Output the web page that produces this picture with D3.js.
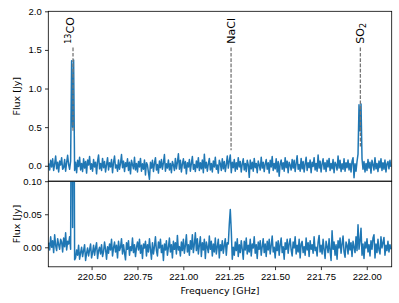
<!DOCTYPE html>
<html>
<head>
<meta charset="utf-8">
<script src="https://cdn.jsdelivr.net/npm/d3@7"></script>
<style>
  body { margin: 0; background: #fff; }
  svg { display: block; font-family: "DejaVu Sans", sans-serif; }
  .tick text { font-size: 9.5px; fill: #000; }
  .tick line { stroke: #000; stroke-width: 0.8; }
</style>
</head>
<body>
<div id="chart"></div>
<script>
// channel grid of the spectrum (GHz)
const chanStart = 220.266;
const chanWidth = 0.00544;

// upper spectrum, flux in mJy per channel
const fluxTop = [
  30,-55,70,-15,90,-60,25,125,-40,45,-80,60,10,105,-45,-25,80,-70,40,135,
  15,-45,60,1360,500,1370,-60,45,-90,70,-10,110,-55,30,-75,90,-30,55,-95,75,
  10,120,-45,25,-70,80,-15,45,-105,60,140,-40,30,-60,95,-25,55,-80,15,105,
  -55,40,-15,80,-90,45,125,-30,10,-70,75,-45,30,145,-25,60,-75,40,-10,90,
  -60,45,-105,70,15,-40,110,-55,30,-80,55,-15,95,-70,25,-45,75,-120,40,10,
  -90,-175,45,-30,70,-75,30,105,-55,15,-95,60,-25,80,-45,40,145,-70,25,-30,
  75,-55,30,-90,55,10,-60,95,-40,45,155,-45,70,-80,25,90,-30,55,-105,40,
  -15,80,-70,30,120,-45,15,-75,60,-25,105,-60,40,-40,75,-90,150,-30,45,-70,
  25,95,-55,30,-80,60,-15,110,-45,10,-95,70,30,-60,90,-40,55,-75,15,125,
  -30,60,140,-90,45,-25,80,-70,40,-45,105,-15,55,-80,25,90,-55,30,-75,70,
  15,-150,75,-40,45,-70,95,-25,30,-90,60,10,-55,110,-30,45,-75,25,80,-45,
  40,-95,70,-15,120,-60,30,-40,90,-80,55,-135,25,75,-45,40,-70,105,-25,60,
  -90,45,10,-55,80,-30,70,-75,30,130,-45,15,-70,95,-40,55,-80,25,110,-60,
  40,-25,75,-90,45,-10,105,-55,30,-70,140,-30,60,-80,25,90,-45,40,-75,70,
  -15,95,-60,30,-40,80,-90,45,15,-55,125,-30,70,-75,25,-45,90,-70,40,-25,
  75,-55,30,-80,60,105,-155,25,-70,55,150,790,450,800,90,-45,55,-80,30,-60,
  80,-30,45,-95,70,15,-55,105,-40,30,-75,60,-25,90,-60,40,-45,75,-80,25,
  55,-40,70,-15
];

// lower spectrum, flux in mJy per channel
const fluxBottom = [
  7,-4,16,0,10,-8,19,3,-5,13,4,-3,12,8,-7,14,1,22,-4,9,
  5,16,-3,400,30,420,-19,-16,-4,-12,3,-18,-8,0,-14,-5,4,-20,-9,-1,
  -13,-4,5,-16,-8,3,-12,-1,7,-17,-5,0,-10,4,-14,-7,8,-3,-18,1,
  -9,5,-4,12,-13,-1,8,-7,3,-16,9,-5,0,13,-10,4,-8,-19,7,-3,
  10,-12,1,-5,14,-8,4,-14,0,8,-4,12,-9,3,-17,5,-1,9,-13,4,
  -7,13,-3,-18,7,-10,1,16,-5,-13,8,-1,12,-8,3,-20,5,-4,10,-12,
  0,14,-7,4,-16,9,-3,7,-10,18,-4,1,-13,8,-5,12,-9,3,19,-7,
  4,-12,10,-3,19,-8,5,22,-5,13,-10,3,16,-14,7,-4,12,-17,8,0,
  -8,17,-3,9,-13,5,-7,14,-10,1,12,-16,4,-5,10,-9,3,13,-12,7,
  5,35,57,25,-18,0,-12,8,-5,13,-14,4,-8,10,-3,-18,9,-4,14,-10,
  3,-7,12,-13,5,-1,16,-9,4,-17,8,-3,10,-12,1,13,-8,5,-14,9,
  -4,12,-10,3,17,-7,0,-16,8,-5,10,-12,4,14,-8,1,-18,7,-3,12,
  -9,5,13,-4,-13,8,-1,16,-10,3,-7,12,-16,5,9,-8,1,-12,14,-4,
  7,-14,10,-3,4,-9,16,-5,0,-13,8,18,-7,3,-10,12,-4,-17,9,1,
  -8,13,-5,-20,25,-3,8,-12,4,-18,10,-1,14,-9,5,17,-7,-15,8,3,
  -10,12,-4,7,-14,9,0,-8,16,-5,34,-3,10,29,-12,5,-17,8,-1,13,
  -7,4,-13,10,-3,14,19,-16,5,-8,12,-4,-10,16,-1,7,15,-12,3,-5,
  9,-7,4,-3
];

// line identifications
const lineNames = ['13CO', 'NaCl', 'SO2'];
const lineFreqs = [220.3987, 221.2603, 221.9652];
const lineDashEnd = [0.45, 0.2, 0.25];   // Jy, lower end of the marker
const labelFlux = 1.58;
const dashTopFlux = 1.53;

const xTicks = [220.5, 220.75, 221.0, 221.25, 221.5, 221.75, 222.0];
const yTicksTop = [0, 0.5, 1.0, 1.5, 2.0];
const yTicksBottom = [0, 0.05, 0.1];

const width = 399, height = 303;
const left = 48.3, right = 391.7;
const top1 = 11.3, bot1 = 181.2, bot2 = 266.8;
const blue = '#1f77b4';

const toSeries = arr => arr.map((v, i) => ({ f: chanStart + i * chanWidth, v: v / 1000 }));
const specTop = toSeries(fluxTop);
const specBottom = toSeries(fluxBottom);

const svg = d3.select('#chart')
  .append('svg')
  .attr('width', width)
  .attr('height', height);

const x = d3.scaleLinear().domain([220.264, 222.136]).range([left, right]);
const yTop = d3.scaleLinear().domain([-0.2, 2.0]).range([bot1, top1]);
const yBot = d3.scaleLinear().domain([-0.0295, 0.1]).range([bot2, bot1]);

function panel(id, y, spec, yTicks, fmt, showX) {
  const defs = svg.append('defs');
  defs.append('clipPath').attr('id', id)
    .append('rect')
    .attr('x', left).attr('y', y.range()[1])
    .attr('width', right - left).attr('height', y.range()[0] - y.range()[1]);

  const line = d3.line().x(d => x(d.f)).y(d => y(d.v));
  svg.append('path')
    .datum(spec)
    .attr('clip-path', `url(#${id})`)
    .attr('d', line)
    .attr('fill', 'none')
    .attr('stroke', blue)
    .attr('stroke-width', 1.5)
    .attr('stroke-linejoin', 'round');

  const yAxis = svg.append('g')
    .attr('transform', `translate(${left},0)`)
    .call(d3.axisLeft(y).tickValues(yTicks).tickFormat(d3.format(fmt))
      .tickSize(3.3).tickPadding(3.3).tickSizeOuter(0));
  yAxis.select('.domain').remove();

  if (showX) {
    const xAxis = svg.append('g')
      .attr('transform', `translate(0,${y.range()[0]})`)
      .call(d3.axisBottom(x).tickValues(xTicks).tickFormat(d3.format('.2f'))
        .tickSize(3.3).tickPadding(3.3).tickSizeOuter(0));
    xAxis.select('.domain').remove();
  }

  // frame
  svg.append('rect')
    .attr('x', left).attr('y', y.range()[1])
    .attr('width', right - left).attr('height', y.range()[0] - y.range()[1])
    .attr('fill', 'none')
    .attr('stroke', '#000')
    .attr('stroke-width', 0.8);

  svg.append('text')
    .attr('transform', `translate(16.7,${(y.range()[0] + y.range()[1]) / 2}) rotate(-90)`)
    .attr('text-anchor', 'middle')
    .attr('dy', '0.35em')
    .attr('font-size', 9.5)
    .text('Flux [Jy]');
}

panel('clipTop', yTop, specTop, yTicksTop, '.1f', false);
panel('clipBot', yBot, specBottom, yTicksBottom, '.2f', true);

// line markers on the upper panel
lineNames.forEach((name, i) => {
  const lx = x(lineFreqs[i]);
  svg.append('line')
    .attr('x1', lx).attr('x2', lx)
    .attr('y1', yTop(dashTopFlux)).attr('y2', yTop(lineDashEnd[i]))
    .attr('stroke', '#777')
    .attr('stroke-width', 1.3)
    .attr('stroke-dasharray', '3.7,1.6');

  const t = svg.append('text')
    .attr('transform', `translate(${lx},${yTop(labelFlux)}) rotate(-90)`)
    .attr('dy', '0.36em')
    .attr('font-size', 11);
  if (name === '13CO') {
    t.append('tspan').attr('font-size', 8).attr('dy', '-0.25em').text('13');
    t.append('tspan').attr('dy', '3px').text('CO');
  } else if (name === 'SO2') {
    t.append('tspan').text('SO');
    t.append('tspan').attr('font-size', 8).attr('dy', '2px').text('2');
  } else {
    t.text(name);
  }
});

svg.append('text')
  .attr('x', (left + right) / 2)
  .attr('y', 293.5)
  .attr('text-anchor', 'middle')
  .attr('font-size', 9.5)
  .text('Frequency [GHz]');
</script>
</body>
</html>
